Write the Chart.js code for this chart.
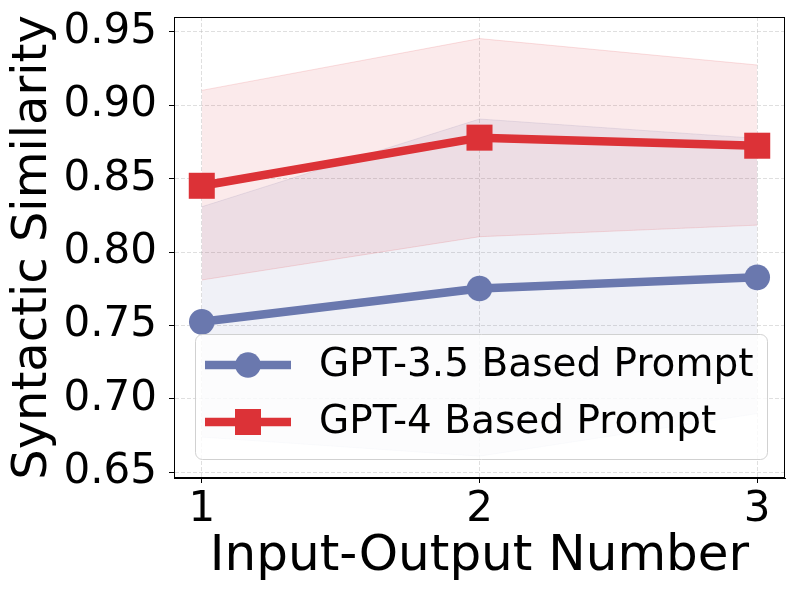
<!DOCTYPE html>
<html>
<head>
<meta charset="utf-8">
<script src="https://cdn.jsdelivr.net/npm/chart.js@4.4.1/dist/chart.umd.min.js"></script>
<style>
  html, body { margin: 0; padding: 0; background: #fff; }
  #wrap { width: 800px; height: 600px; }
</style>
</head>
<body>
<div id="wrap"><canvas id="chart" width="800" height="600"></canvas></div>
<script>
// data
const xValues = [1, 2, 3];
const xTicks = [1, 2, 3];
const yTicks = [0.65, 0.70, 0.75, 0.80, 0.85, 0.90, 0.95];
const seriesLabels = ['GPT-3.5 Based Prompt', 'GPT-4 Based Prompt'];
const gpt35Mean  = [0.7525, 0.7752, 0.7828];
const gpt35Upper = [0.8309, 0.8907, 0.8775];
const gpt35Lower = [0.6740, 0.6610, 0.6900];
const gpt4Mean   = [0.8452, 0.8780, 0.8725];
const gpt4Upper  = [0.9102, 0.9455, 0.9275];
const gpt4Lower  = [0.7810, 0.8105, 0.8184];

const BLUE = '#6a78ae';
const RED = '#dc3237';
const FONT = "'DejaVu Sans', sans-serif";

const pts = ys => xValues.map((x, i) => ({ x, y: ys[i] }));
const rgba = (hex, a) => {
  const n = parseInt(hex.slice(1), 16);
  return `rgba(${n >> 16},${(n >> 8) & 255},${n & 255},${a})`;
};

function band(data, color, fill, order) {
  return {
    data: pts(data), fill, order,
    backgroundColor: rgba(color, 0.1),
    borderColor: rgba(color, 0.15), borderWidth: 1,
    pointRadius: 0, tension: 0,
  };
}

// full box round the plot area (Chart.js only draws left/bottom)
const frame = {
  id: 'frame',
  afterDatasetsDraw(chart) {
    const { ctx, chartArea: a } = chart;
    ctx.save();
    ctx.strokeStyle = '#000';
    ctx.lineWidth = 1;
    ctx.strokeRect(Math.round(a.left) + 0.5, Math.round(a.top) + 0.5,
      Math.round(a.right - a.left) - 1, Math.round(a.bottom - a.top) - 1);
    ctx.restore();
  },
};

// matplotlib-like legend: line + marker sample inside a rounded box
const legendBox = {
  id: 'legendBox',
  afterDatasetsDraw(chart) {
    const { ctx, chartArea: a } = chart;
    const x0 = a.left + 21, y0 = a.top + 317, w = 572, h = 125;
    ctx.save();
    ctx.beginPath();
    ctx.roundRect(x0 + 0.5, y0 + 0.5, w, h, 7);
    ctx.fillStyle = 'rgba(255,255,255,0.8)';
    ctx.fill();
    ctx.strokeStyle = 'rgba(204,204,204,0.9)';
    ctx.lineWidth = 1;
    ctx.stroke();

    const rows = [
      { label: seriesLabels[0], color: BLUE, shape: 'circle', y: y0 + 31 },
      { label: seriesLabels[1], color: RED, shape: 'rect', y: y0 + 88 },
    ];
    rows.forEach(r => {
      ctx.strokeStyle = r.color;
      ctx.fillStyle = r.color;
      ctx.lineWidth = 8.5;
      ctx.lineCap = 'butt';
      ctx.beginPath();
      ctx.moveTo(x0 + 10, r.y);
      ctx.lineTo(x0 + 96, r.y);
      ctx.stroke();
      ctx.beginPath();
      if (r.shape === 'circle') ctx.arc(x0 + 53, r.y, 12.8, 0, Math.PI * 2);
      else ctx.rect(x0 + 53 - 13, r.y - 13, 26, 26);
      ctx.fill();
      ctx.fillStyle = '#000';
      ctx.font = `39px ${FONT}`;
      ctx.textBaseline = 'middle';
      ctx.textAlign = 'left';
      ctx.fillText(r.label, x0 + 124, r.y + 1);
    });
    ctx.restore();
  },
};

const gridOpts = {
  color: 'rgba(176,176,176,0.4)',
  lineWidth: 1,
  tickColor: '#000',
  tickLength: 5,
  tickBorderDash: [],
  tickWidth: 1,
};
const borderOpts = { display: true, color: '#000', width: 1, dash: [4, 2] };

new Chart(document.getElementById('chart'), {
  type: 'line',
  data: {
    datasets: [
      { label: seriesLabels[1], data: pts(gpt4Mean), order: 0,
        borderColor: RED, backgroundColor: RED, borderWidth: 8.5,
        borderJoinStyle: 'round', pointStyle: 'rect', pointRadius: 18.4,
        pointBorderWidth: 0, pointBackgroundColor: RED, fill: false },
      { label: seriesLabels[0], data: pts(gpt35Mean), order: 1,
        borderColor: BLUE, backgroundColor: BLUE, borderWidth: 8.5,
        borderJoinStyle: 'round', pointStyle: 'circle', pointRadius: 12.8,
        pointBorderWidth: 0, pointBackgroundColor: BLUE, fill: false },
      band(gpt4Upper, RED, '+1', 2),
      band(gpt4Lower, RED, false, 2),
      band(gpt35Upper, BLUE, '+1', 3),
      band(gpt35Lower, BLUE, false, 3),
    ],
  },
  options: {
    responsive: false,
    animation: false,
    events: [],
    layout: { autoPadding: false, padding: { top: 17, right: 15, left: 0, bottom: 0 } },
    plugins: { legend: { display: false }, tooltip: { enabled: false } },
    scales: {
      x: {
        type: 'linear', min: 0.9, max: 3.1,
        afterBuildTicks: s => { s.ticks = xTicks.map(v => ({ value: v })); },
        afterFit: s => { s.height = 122; s.paddingLeft = 0; s.paddingRight = 0; },
        grid: gridOpts,
        border: borderOpts,
        ticks: { color: '#000', padding: 2, maxRotation: 0,
          font: { family: FONT, size: 42 }, callback: v => String(v) },
        title: { display: true, text: 'Input-Output Number', color: '#000',
          font: { family: FONT, size: 50 }, padding: { top: 0, bottom: 13 } },
      },
      y: {
        type: 'linear', min: 0.6461, max: 0.9602,
        afterBuildTicks: s => { s.ticks = yTicks.map(v => ({ value: v })); },
        afterFit: s => { s.width = 174; s.paddingTop = 0; s.paddingBottom = 0; },
        grid: gridOpts,
        border: borderOpts,
        ticks: { color: '#000', padding: 12,
          font: { family: FONT, size: 42 }, callback: v => v.toFixed(2) },
        title: { display: true, text: 'Syntactic Similarity', color: '#000',
          font: { family: FONT, size: 48 }, padding: { top: 5, bottom: 0 } },
      },
    },
  },
  plugins: [frame, legendBox],
});
</script>
</body>
</html>
